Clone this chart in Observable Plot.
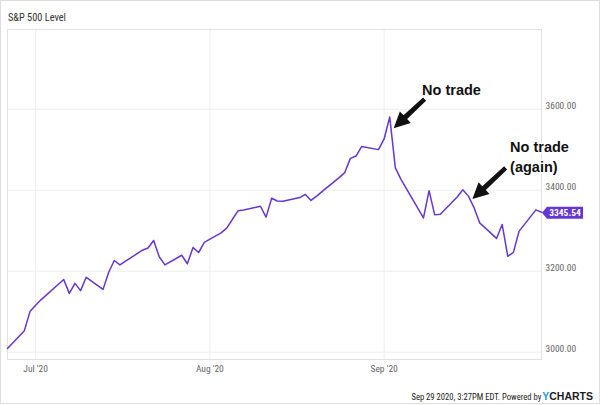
<!DOCTYPE html>
<html><head><meta charset="utf-8">
<script src="https://cdn.jsdelivr.net/npm/d3@7"></script>
<script src="https://cdn.jsdelivr.net/npm/@observablehq/plot@0.6"></script>
<style>
html,body{margin:0;padding:0;background:#fff;}
#chart{width:600px;height:405px;position:relative;overflow:hidden}
</style></head><body><div id="chart"></div>
<script>
const dates = ["2020-06-26","2020-06-29","2020-06-30","2020-07-01","2020-07-02","2020-07-06","2020-07-07","2020-07-08","2020-07-09","2020-07-10",
"2020-07-13","2020-07-14","2020-07-15","2020-07-16","2020-07-17","2020-07-20","2020-07-21","2020-07-22","2020-07-23","2020-07-24",
"2020-07-27","2020-07-28","2020-07-29","2020-07-30","2020-07-31","2020-08-03","2020-08-04","2020-08-05","2020-08-06","2020-08-07",
"2020-08-10","2020-08-11","2020-08-12","2020-08-13","2020-08-14","2020-08-17","2020-08-18","2020-08-19","2020-08-20","2020-08-21",
"2020-08-24","2020-08-25","2020-08-26","2020-08-27","2020-08-28","2020-08-31","2020-09-01","2020-09-02","2020-09-03","2020-09-04",
"2020-09-08","2020-09-09","2020-09-10","2020-09-11","2020-09-14","2020-09-15","2020-09-16","2020-09-17","2020-09-18","2020-09-21",
"2020-09-22","2020-09-23","2020-09-24","2020-09-25","2020-09-28","2020-09-29"];
const closes = [3009.05,3053.24,3100.29,3115.86,3130.01,3179.72,3145.32,3169.94,3152.05,3185.04,
3155.22,3197.52,3226.56,3215.57,3224.73,3251.84,3257.30,3276.02,3235.66,3215.63,
3239.41,3218.44,3258.44,3246.22,3271.12,3294.61,3306.51,3327.77,3349.16,3351.28,
3360.47,3333.69,3380.35,3373.43,3372.85,3381.99,3389.78,3374.85,3385.51,3397.16,
3431.28,3443.62,3478.73,3484.55,3508.01,3500.31,3526.65,3580.84,3455.06,3426.96,
3331.84,3398.96,3339.19,3340.97,3383.54,3401.20,3385.49,3357.01,3319.47,3281.06,
3315.57,3236.92,3246.59,3298.46,3351.60,3345.54];
const yTicks = [3000, 3200, 3400, 3600];
const xTickDates = ["2020-07-01","2020-08-01","2020-09-01"];
const xTickLabels = ["Jul '20","Aug '20","Sep '20"];
const noteTexts = ["No trade", "No trade\n(again)"];
const noteX = ["2020-09-07T18:00Z", "2020-09-23T10:00Z"];
const noteY = [3651, 3486];
const arrowTailX = ["2020-09-08T07:00Z", "2020-09-22T17:00Z"];
const arrowTailY = [3624, 3454];
const arrowTipX = ["2020-09-02T19:00Z", "2020-09-16T19:00Z"];
const arrowTipY = [3552, 3377];
const titleText = "S&P 500 Level";
const footerText = "Sep 29 2020, 3:27PM EDT. Powered by";
const logoY = "Y", logoRest = "CHARTS";

const purple = "#6536d3";
const narrow = "'Liberation Sans Narrow','Arial Narrow','Roboto Condensed',sans-serif";
const parse = s => new Date(s.length === 10 ? s + "T00:00Z" : s);
const data = dates.map((d, i) => ({date: parse(d), close: closes[i]}));
const xt = xTickDates.map(parse);
const notes = noteTexts.map((t, i) => ({text: t, x: parse(noteX[i]), y: noteY[i]}));

const plot = Plot.plot({
  width: 600, height: 405,
  marginLeft: 7, marginRight: 59, marginTop: 29, marginBottom: 46,
  style: {fontFamily: narrow, fontSize: "9.5px", background: "white", color: "#666"},
  x: {type: "utc", domain: [data[0].date, data[data.length - 1].date], label: null},
  y: {domain: [2982, 3797], label: null},
  marks: [
    Plot.gridX(xt, {stroke: "#eeeeee", strokeOpacity: 1}),
    Plot.gridY(yTicks, {stroke: "#eeeeee", strokeOpacity: 1}),
    Plot.frame({stroke: "#e2e2e2"}),
    Plot.axisY(yTicks, {anchor: "right", tickSize: 0, tickPadding: 4, dy: -3.5, fill: "#666",
      tickFormat: d => d.toFixed(2), label: null}),
    Plot.axisX(xt, {anchor: "bottom", tickSize: 0, tickPadding: 6, fill: "#666",
      tickFormat: d => xTickLabels[xt.findIndex(t => +t === +d)], label: null}),
    Plot.line(data, {x: "date", y: "close", stroke: purple, strokeWidth: 1.5}),
    Plot.text(notes, {x: "x", y: "y", text: "text", textAnchor: "start", fontSize: 14.5,
      fontWeight: "bold", fill: "#111", stroke: "white", strokeWidth: 3, lineHeight: 1.38,
      fontFamily: "'Liberation Sans', Arial, sans-serif"})
  ]
});
document.getElementById("chart").appendChild(plot);

const svg = d3.select(plot);
const sx = plot.scale("x"), sy = plot.scale("y");
const X = d3.scaleUtc(sx.domain, sx.range);
const Y = d3.scaleLinear(sy.domain, sy.range);

// outer border
svg.insert("rect", ":first-child").attr("x", 0.5).attr("y", 0.5).attr("width", 599).attr("height", 403)
  .attr("fill", "white").attr("stroke", "#dddddd");

// arrows
const ag = svg.append("g");
arrowTipX.forEach((tx, i) => {
  const T = [X(parse(arrowTailX[i])), Y(arrowTailY[i])];
  const P = [X(parse(tx)), Y(arrowTipY[i])];
  const dx = P[0] - T[0], dy = P[1] - T[1], L = Math.hypot(dx, dy);
  const u = [dx / L, dy / L], n = [-u[1], u[0]];
  const hl = 16, hw = 8, sw = 2.6, sw0 = 2.2;
  const B = [P[0] - u[0] * hl, P[1] - u[1] * hl];
  const pts = [
    [T[0] + n[0] * sw0, T[1] + n[1] * sw0],
    [B[0] + n[0] * sw, B[1] + n[1] * sw],
    [B[0] + n[0] * hw, B[1] + n[1] * hw],
    P,
    [B[0] - n[0] * hw, B[1] - n[1] * hw],
    [B[0] - n[0] * sw, B[1] - n[1] * sw],
    [T[0] - n[0] * sw0, T[1] - n[1] * sw0]
  ];
  ag.append("path").attr("d", "M" + pts.map(p => p.join(",")).join("L") + "Z")
    .attr("fill", "#111").attr("stroke", "white").attr("stroke-width", 1).attr("stroke-linejoin", "round")
    .attr("paint-order", "stroke");
});

// last value badge
const last = data[data.length - 1];
const by = Y(last.close) + 1;
const bx = X(last.date) + 1;
svg.append("path")
  .attr("d", `M${bx},${by}L${bx + 5},${by - 6}L${bx + 41},${by - 6}L${bx + 41},${by + 6}L${bx + 5},${by + 6}Z`)
  .attr("fill", purple);
svg.append("text").attr("x", bx + 23).attr("y", by).attr("dy", "0.35em").attr("text-anchor", "middle")
  .attr("fill", "white").attr("font-weight", "bold").attr("font-size", 9.5).attr("font-family", narrow)
  .text(last.close.toFixed(2));

// title
svg.append("text").attr("x", 8).attr("y", 20.5).attr("text-anchor", "start").attr("font-size", 11).attr("fill", "#333")
  .attr("font-family", narrow).attr("textLength", 58).attr("lengthAdjust", "spacingAndGlyphs").text(titleText);

// footer + logo as one text line
const foot = svg.append("text").attr("x", 593).attr("y", 400).attr("text-anchor", "end");
foot.append("tspan").attr("font-size", 8.6).attr("fill", "#222").attr("font-family", narrow).text(footerText);
foot.append("tspan").attr("font-size", 10.5).attr("font-weight", "bold").attr("font-family", "'Liberation Sans', Arial, sans-serif")
  .attr("fill", "#1a9ee2").attr("dx", 1).text(logoY);
foot.append("tspan").attr("font-size", 10.5).attr("font-weight", "bold").attr("font-family", "'Liberation Sans', Arial, sans-serif")
  .attr("fill", "#1d1d1d").text(logoRest);
</script></body></html>
